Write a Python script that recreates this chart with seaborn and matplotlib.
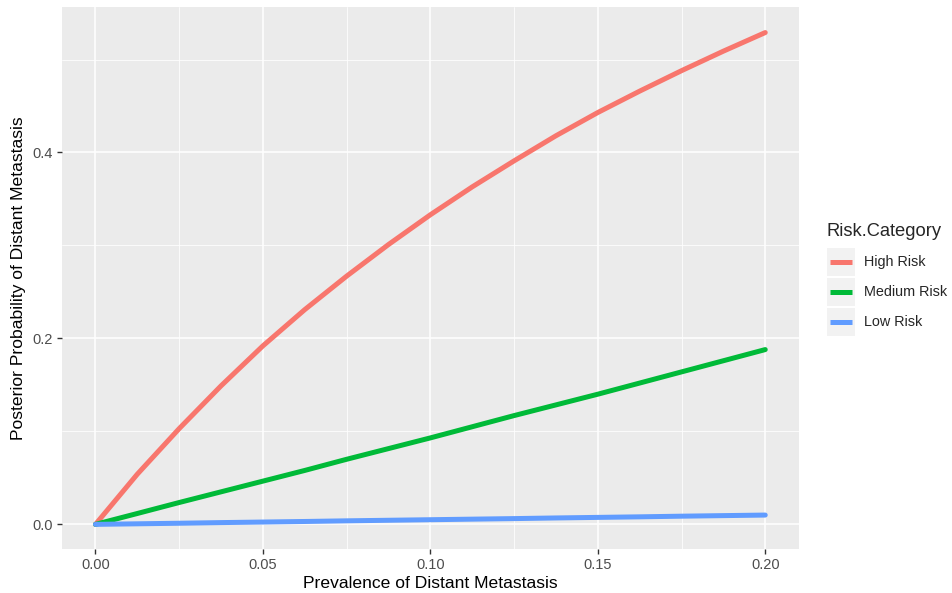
import pandas as pd
import matplotlib.pyplot as plt
import seaborn as sns
from matplotlib.lines import Line2D
from matplotlib.patches import Rectangle

# values
prevalence = [0.0, 0.0125, 0.025, 0.0375, 0.05, 0.0625, 0.075, 0.0875, 0.10,
              0.1125, 0.125, 0.1375, 0.15, 0.1625, 0.175, 0.1875, 0.20]
high_risk = [0.0, 0.054, 0.103, 0.149, 0.192, 0.231, 0.267, 0.301, 0.333,
             0.363, 0.391, 0.418, 0.443, 0.466, 0.488, 0.509, 0.529]
medium_risk = [0.0, 0.0117, 0.0235, 0.035, 0.0465, 0.058, 0.070, 0.0815, 0.093,
               0.105, 0.117, 0.1285, 0.140, 0.152, 0.164, 0.176, 0.188]
low_risk = [0.0, 0.0006, 0.0012, 0.0019, 0.0025, 0.0031, 0.0038, 0.0044, 0.005,
            0.0056, 0.0062, 0.0069, 0.0075, 0.0081, 0.0088, 0.0094, 0.010]

categories = ['High Risk', 'Medium Risk', 'Low Risk']
colors = ['#F8766D', '#00BA38', '#619CFF']

df = pd.DataFrame({
    'Prevalence': prevalence * 3,
    'Posterior': high_risk + medium_risk + low_risk,
    'Risk.Category': [c for c in categories for _ in prevalence],
})

sns.set_theme(style='darkgrid', rc={
    'axes.facecolor': '#EBEBEB',
    'grid.color': 'white',
})
plt.rcParams['font.family'] = ['Liberation Sans', 'DejaVu Sans']

fig = plt.figure(figsize=(9.52, 5.93), dpi=100)
ax = fig.add_axes([0.0651, 0.0742, 0.7739, 0.9140])

sns.lineplot(data=df, x='Prevalence', y='Posterior', hue='Risk.Category',
             hue_order=categories, palette=colors, linewidth=3.6,
             legend=False, ax=ax)

ax.set_xlim(-0.01, 0.21)
ax.set_ylim(-0.0265, 0.5565)
ax.set_xticks([0.0, 0.05, 0.10, 0.15, 0.20])
ax.set_xticklabels(['0.00', '0.05', '0.10', '0.15', '0.20'])
ax.set_yticks([0.0, 0.2, 0.4])
ax.set_yticklabels(['0.0', '0.2', '0.4'])
ax.set_xticks([0.025, 0.075, 0.125, 0.175], minor=True)
ax.set_yticks([0.1, 0.3, 0.5], minor=True)
ax.grid(which='major', color='white', linewidth=1.1)
ax.grid(which='minor', color='white', linewidth=0.55)
ax.tick_params(axis='both', which='major', length=3.5, width=1, color='#333333',
               labelsize=10.5, labelcolor='#4D4D4D', pad=3, bottom=True, left=True)
ax.tick_params(which='minor', length=0)
for s in ax.spines.values():
    s.set_visible(False)

ax.set_xlabel('Prevalence of Distant Metastasis', fontsize=12.6, color='black', labelpad=3)
ax.set_ylabel('Posterior Probability of Distant Metastasis', fontsize=12.6, color='black', labelpad=5)

# legend drawn ggplot-style, in figure pixel fractions
W, H = 952, 593
fig.text(826 / W, 1 - 231 / H, 'Risk.Category', fontsize=13.2, va='center', ha='left')
rows = [262, 292, 322]
for y, lab, col in zip(rows, categories, colors):
    fig.add_artist(Rectangle(((827) / W, 1 - (y + 14) / H), 28 / W, 28 / H,
                             transform=fig.transFigure, facecolor='#F2F2F2',
                             edgecolor='none'))
    fig.add_artist(Line2D([830 / W, 852 / W], [1 - y / H, 1 - y / H],
                          transform=fig.transFigure, color=col, linewidth=3.6,
                          solid_capstyle='butt'))
    fig.text(864 / W, 1 - y / H, lab, fontsize=10.4, va='center', ha='left')

fig.savefig('out.png', dpi=100)
